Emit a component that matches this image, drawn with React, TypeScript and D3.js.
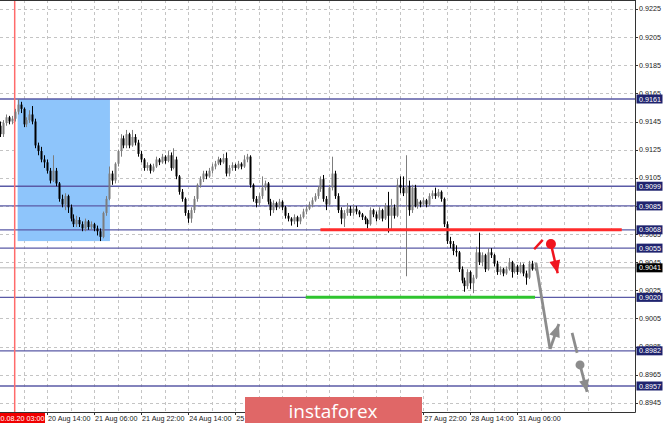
import React from "react";
import * as d3 from "d3";

// H1 bars, prices in pips (9142 => 0.9142)
const OPEN = [
  9142,9136,9144,9148,9145,9147,9152,9157,9154,9143,
  9146,9150,9145,9128,9124,9118,9116,9110,9103,9110,
  9101,9090,9086,9092,9084,9076,9072,9075,9072,9069,
  9074,9070,9072,9069,9067,9063,9080,9090,9108,9103,
  9115,9124,9133,9128,9136,9128,9134,9130,9122,9118,
  9112,9114,9110,9113,9118,9116,9120,9117,9121,9112,
  9118,9106,9095,9090,9080,9076,9082,9090,9100,9104,
  9108,9106,9110,9113,9115,9118,9116,9119,9108,9112,
  9114,9112,9115,9113,9118,9120,9100,9090,9087,9092,
  9098,9101,9088,9082,9087,9084,9088,9084,9078,9076,
  9074,9077,9074,9077,9081,9083,9086,9089,9092,9097,
  9104,9090,9086,9098,9108,9092,9082,9076,9080,9083,
  9080,9083,9081,9079,9077,9075,9072,9082,9079,9076,
  9082,9076,9085,9078,9084,9078,9100,9098,9094,9099,
  9082,9098,9085,9088,9086,9089,9086,9092,9094,9092,
  9095,9090,9072,9060,9058,9053,9052,9040,9032,9028,
  9038,9030,9034,9052,9045,9050,9040,9052,9050,9044,
  9038,9040,9037,9040,9045,9038,9042,9038,9043,9037,
  9034,9044,9040,
];
const HIGH = [
  9145,9146,9150,9149,9149,9154,9161,9159,9155,9148,
  9153,9156,9147,9130,9127,9121,9118,9112,9121,9112,
  9102,9093,9094,9093,9086,9079,9078,9077,9074,9076,
  9075,9074,9073,9071,9069,9081,9092,9113,9110,9116,
  9125,9136,9135,9139,9137,9139,9136,9132,9124,9119,
  9116,9115,9115,9120,9119,9122,9121,9124,9123,9126,
  9120,9107,9097,9091,9082,9084,9092,9101,9106,9110,
  9110,9112,9115,9117,9120,9119,9122,9123,9114,9116,
  9115,9117,9116,9121,9122,9121,9101,9092,9094,9106,
  9103,9102,9090,9089,9088,9090,9089,9085,9080,9077,
  9079,9078,9079,9083,9085,9088,9091,9094,9099,9106,
  9107,9092,9100,9120,9110,9094,9084,9082,9087,9085,
  9086,9085,9082,9080,9078,9076,9084,9083,9081,9084,
  9083,9087,9095,9090,9086,9104,9106,9106,9121,9103,
  9100,9100,9090,9089,9091,9090,9094,9096,9098,9097,
  9096,9091,9074,9063,9060,9057,9053,9042,9034,9040,
  9039,9036,9056,9066,9052,9051,9055,9055,9051,9046,
  9042,9041,9042,9048,9046,9044,9043,9045,9044,9039,
  9046,9046,9043,
];
const LOW = [
  9134,9134,9142,9143,9143,9145,9150,9151,9141,9141,
  9144,9143,9126,9121,9116,9112,9108,9101,9102,9099,
  9088,9084,9082,9080,9074,9070,9070,9070,9067,9067,
  9068,9068,9067,9064,9060,9062,9078,9089,9100,9101,
  9113,9120,9126,9126,9126,9127,9128,9120,9116,9110,
  9110,9108,9109,9112,9114,9115,9115,9116,9110,9111,
  9104,9093,9088,9078,9073,9073,9080,9088,9098,9102,
  9104,9105,9108,9111,9114,9114,9115,9106,9106,9110,
  9110,9111,9111,9112,9116,9098,9088,9084,9085,9090,
  9096,9086,9078,9080,9082,9083,9082,9076,9074,9071,
  9072,9070,9072,9076,9079,9082,9084,9088,9090,9095,
  9088,9082,9085,9096,9090,9080,9072,9070,9078,9078,
  9078,9079,9077,9075,9072,9069,9071,9077,9074,9075,
  9074,9075,9066,9068,9076,9077,9094,9092,9035,9078,
  9080,9084,9083,9084,9085,9084,9085,9090,9090,9091,
  9088,9070,9058,9055,9050,9049,9038,9030,9024,9026,
  9026,9023,9033,9043,9042,9038,9039,9048,9042,9036,
  9036,9035,9036,9039,9034,9037,9036,9037,9035,9029,
  9033,9039,9039,
];
const CLOSE = [
  9136,9144,9148,9145,9147,9152,9157,9154,9143,9146,
  9150,9145,9128,9124,9118,9116,9110,9103,9110,9101,
  9090,9086,9092,9084,9076,9072,9075,9072,9069,9074,
  9070,9072,9069,9067,9063,9080,9090,9108,9103,9115,
  9124,9133,9128,9136,9128,9134,9130,9122,9118,9112,
  9114,9110,9113,9118,9116,9120,9117,9121,9112,9118,
  9106,9095,9090,9080,9076,9082,9090,9100,9104,9108,
  9106,9110,9113,9115,9118,9116,9119,9108,9112,9114,
  9112,9115,9113,9118,9120,9100,9090,9087,9092,9098,
  9101,9088,9082,9087,9084,9088,9084,9078,9076,9074,
  9077,9074,9077,9081,9083,9086,9089,9092,9097,9104,
  9090,9086,9098,9108,9092,9082,9076,9080,9083,9080,
  9083,9081,9079,9077,9075,9072,9082,9079,9076,9082,
  9076,9085,9078,9084,9078,9100,9098,9094,9099,9082,
  9098,9085,9088,9086,9089,9086,9092,9094,9092,9095,
  9090,9072,9060,9058,9053,9052,9040,9032,9028,9038,
  9030,9034,9052,9045,9050,9040,9052,9050,9044,9038,
  9040,9037,9040,9045,9038,9042,9038,9043,9037,9034,
  9044,9040,9041,
];

const Y_TICKS = [0.9225,0.9205,0.9185,0.9165,0.9145,0.9125,0.9105,0.9085,0.9065,0.9045,0.9025,0.9005,0.8985,0.8965,0.8945];
const LEVELS = [0.9161,0.9099,0.9085,0.9068,0.9055,0.9020,0.8982,0.8957];
const CURRENT_PRICE = 0.9041;
// time labels visible in the picture (the ones under the banner are hidden there)
const TIME_LABELS = ["20 Aug 14:00","21 Aug 06:00","21 Aug 22:00","24 Aug 14:00","25 Aug 06:00","27 Aug 22:00","28 Aug 14:00","31 Aug 06:00"];
const TIME_LABEL_BARS = [16,32,48,64,80,144,160,176];
const CURSOR_BAR = 5;
const CURSOR_LABEL = "20.08.20 03:00";

// drawings (bar index, price)
const RECT_ZONE = { bar0: 6, bar1: 37.4, top: 0.9161, bottom: 0.9060 };
const RED_LINE = { bar0: 109, bar1: 211.5, price: 0.9068 };
const GREEN_LINE = { bar0: 104, bar1: 182, price: 0.9020 };
const RED_TICK: [number, number][] = [[181.7, 0.90542], [184.6, 0.90608]];
const RED_DOT: [number, number] = [187.4, 0.90579];
const RED_ARROW_TIP: [number, number] = [189.7, 0.90371];
const GREY_PATH: [number, number][] = [[182.3, 0.90444], [187.1, 0.89833]];
const GREY_UP_TIP: [number, number] = [190.1, 0.90011];
const GREY_SEG: [number, number][] = [[194.6, 0.89947], [196.3, 0.89805]];
const GREY_DOT: [number, number] = [197.3, 0.89720];
const GREY_DOWN_TIP: [number, number] = [199.7, 0.89528];

const W = 665, H = 427;
const PLOT_R = 635, PLOT_B = 412;
const FONT = "'Liberation Sans', Arial, sans-serif";

function arrowHead(x1: number, y1: number, x2: number, y2: number, len: number, half: number) {
  const a = Math.atan2(y2 - y1, x2 - x1);
  const bx = x2 - len * Math.cos(a), by = y2 - len * Math.sin(a);
  const px = -Math.sin(a) * half, py = Math.cos(a) * half;
  return `M${x2},${y2}L${bx + px},${by + py}L${bx - px},${by - py}Z`;
}

export default function App() {
  const x = d3.scaleLinear().domain([0, 216]).range([0, PLOT_R]);
  const y = d3.scaleLinear().domain([0.9161, 0.8957]).range([99, 386]);
  const bars = CLOSE.map((c, i) => ({ i, o: OPEN[i] / 1e4, h: HIGH[i] / 1e4, l: LOW[i] / 1e4, c: c / 1e4 }));
  const gridBars = d3.range(8, 217, 8);
  const P = (p: [number, number]) => [x(p[0]), y(p[1])] as [number, number];

  const rt0 = P(RED_TICK[0]), rt1 = P(RED_TICK[1]);
  const rd = P(RED_DOT), rtip = P(RED_ARROW_TIP);
  const g0 = P(GREY_PATH[0]), g1 = P(GREY_PATH[1]), gup = P(GREY_UP_TIP);
  const gs0 = P(GREY_SEG[0]), gs1 = P(GREY_SEG[1]);
  const gd = P(GREY_DOT), gtip = P(GREY_DOWN_TIP);

  return (
    <svg width={W} height={H} style={{ position: "fixed", left: 0, top: 0, background: "#fff" }} fontFamily={FONT}>
      <defs>
        <clipPath id="plot"><rect x={0} y={0} width={PLOT_R} height={PLOT_B} /></clipPath>
      </defs>
      <rect width={W} height={H} fill="#fff" />
      <g clipPath="url(#plot)">
        {Y_TICKS.map((t) => (
          <line key={"hg" + t} x1={0} x2={PLOT_R} y1={Math.round(y(t)) + 0.5} y2={Math.round(y(t)) + 0.5} stroke="#c4c4c4" strokeDasharray="3,3" />
        ))}
        {gridBars.map((b) => (
          <line key={"vg" + b} x1={Math.round(x(b)) + 0.5} x2={Math.round(x(b)) + 0.5} y1={0} y2={PLOT_B} stroke="#c4c4c4" strokeDasharray="3,3" />
        ))}
        <rect x={x(RECT_ZONE.bar0)} width={x(RECT_ZONE.bar1) - x(RECT_ZONE.bar0)} y={y(RECT_ZONE.top)} height={y(RECT_ZONE.bottom) - y(RECT_ZONE.top)} fill="#8ec5fb" />
        <line x1={0} x2={PLOT_R} y1={y(CURRENT_PRICE)} y2={y(CURRENT_PRICE)} stroke="#cfcfcf" strokeWidth={1.5} />
        {LEVELS.map((l) => (
          <line key={"lv" + l} x1={0} x2={PLOT_R} y1={y(l)} y2={y(l)} stroke="#5a5aa6" strokeWidth={1.4} />
        ))}
        <line x1={x(CURSOR_BAR)} x2={x(CURSOR_BAR)} y1={0} y2={PLOT_B} stroke="#ff6b6b" strokeWidth={1.5} />
        {bars.map((d) => {
          const bull = d.c >= d.o;
          const col = bull ? "#7d7d7d" : "#000";
          const cx = Math.round(x(d.i)) + 0.5;
          const top = y(Math.max(d.o, d.c)), bot = y(Math.min(d.o, d.c));
          return (
            <g key={"b" + d.i}>
              <line x1={cx} x2={cx} y1={y(d.h)} y2={y(d.l)} stroke={col} strokeWidth={1} />
              <rect x={cx - 1} width={2} y={top} height={Math.max(1, bot - top)} fill={col} />
            </g>
          );
        })}
        <line x1={x(RED_LINE.bar0)} x2={x(RED_LINE.bar1)} y1={y(RED_LINE.price)} y2={y(RED_LINE.price)} stroke="#ff2b2b" strokeWidth={3} />
        <line x1={x(GREEN_LINE.bar0)} x2={x(GREEN_LINE.bar1)} y1={y(GREEN_LINE.price)} y2={y(GREEN_LINE.price)} stroke="#2fc42f" strokeWidth={3} />
        {/* red scenario */}
        <line x1={rt0[0]} y1={rt0[1]} x2={rt1[0]} y2={rt1[1]} stroke="#f0141e" strokeWidth={2.5} />
        <circle cx={rd[0]} cy={rd[1]} r={5} fill="#f0141e" />
        <line x1={rd[0]} y1={rd[1]} x2={rtip[0]} y2={rtip[1]} stroke="#f0141e" strokeWidth={2.5} />
        <path d={arrowHead(rd[0], rd[1], rtip[0], rtip[1], 13, 5.5)} fill="#f0141e" />
        {/* grey scenario */}
        <line x1={g0[0]} y1={g0[1]} x2={g1[0]} y2={g1[1]} stroke="#8c8c8c" strokeWidth={2.8} />
        <line x1={g1[0]} y1={g1[1]} x2={gup[0]} y2={gup[1]} stroke="#8c8c8c" strokeWidth={2.8} />
        <path d={arrowHead(g1[0], g1[1], gup[0], gup[1], 13, 5.5)} fill="#8c8c8c" />
        <line x1={gs0[0]} y1={gs0[1]} x2={gs1[0]} y2={gs1[1]} stroke="#8c8c8c" strokeWidth={2.8} />
        <circle cx={gd[0]} cy={gd[1]} r={4.5} fill="#8c8c8c" />
        <line x1={gd[0]} y1={gd[1]} x2={gtip[0]} y2={gtip[1]} stroke="#8c8c8c" strokeWidth={2.8} />
        <path d={arrowHead(gd[0], gd[1], gtip[0], gtip[1], 12, 5)} fill="#8c8c8c" />
      </g>
      {/* frame */}
      <line x1={0} x2={PLOT_R + 0.5} y1={0.5} y2={0.5} stroke="#333" />
      <line x1={PLOT_R + 0.5} x2={PLOT_R + 0.5} y1={0} y2={PLOT_B + 0.5} stroke="#333" />
      <line x1={0} x2={PLOT_R + 0.5} y1={PLOT_B + 0.5} y2={PLOT_B + 0.5} stroke="#333" />
      {/* price axis */}
      {Y_TICKS.map((t) => (
        <g key={"yt" + t}>
          <line x1={PLOT_R} x2={PLOT_R + 3} y1={Math.round(y(t)) + 0.5} y2={Math.round(y(t)) + 0.5} stroke="#333" />
          <text x={639} y={y(t) + 2.5} fontSize={7.2} fill="#222">{t.toFixed(4)}</text>
        </g>
      ))}
      {LEVELS.map((l) => (
        <g key={"ll" + l}>
          <rect x={636.5} y={y(l) - 4.5} width={26} height={9} fill="#1f236e" />
          <text x={639} y={y(l) + 2.6} fontSize={7.2} fill="#fff">{l.toFixed(4)}</text>
        </g>
      ))}
      <rect x={636.5} y={y(CURRENT_PRICE) - 4.5} width={26} height={9} fill="#000" />
      <text x={639} y={y(CURRENT_PRICE) + 2.6} fontSize={7.2} fill="#fff">{CURRENT_PRICE.toFixed(4)}</text>
      {/* time axis */}
      {TIME_LABEL_BARS.map((b, k) => (
        <g key={"tl" + b}>
          <line x1={Math.round(x(b)) + 0.5} x2={Math.round(x(b)) + 0.5} y1={PLOT_B} y2={PLOT_B + 3} stroke="#333" />
          <text x={x(b) + 1} y={421} fontSize={7.2} fill="#222">{TIME_LABELS[k]}</text>
        </g>
      ))}
      <rect x={-5} y={413} width={50} height={10} fill="#f00000" />
      <text x={-3.5} y={421} fontSize={7.2} fill="#fff">{CURSOR_LABEL}</text>
      {/* banner */}
      <rect x={245} y={397} width={177} height={26} fill="#e06767" />
      <text x={333} y={418} fontSize={19} fill="#fff" textAnchor="middle" fontFamily="'Open Sans', sans-serif">instaforex</text>
    </svg>
  );
}
